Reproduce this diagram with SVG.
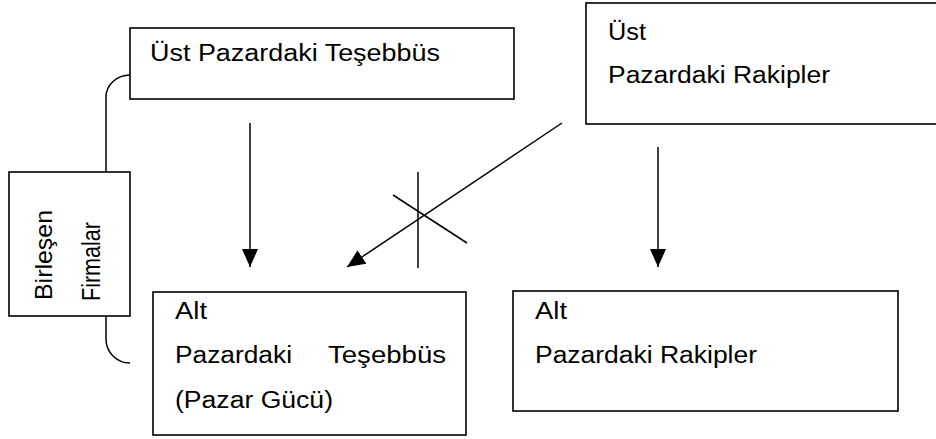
<svg xmlns="http://www.w3.org/2000/svg" width="936" height="439" viewBox="0 0 936 439">
  <style>
    .box { fill: #fff; stroke: #000; stroke-width: 1.6; }
    .lbl { font-family: "Liberation Sans", Arial, sans-serif; font-size: 23px; fill: #000; }
    .vlbl { font-family: "Liberation Sans", Arial, sans-serif; font-size: 24px; fill: #000; }
    .wire { fill: none; stroke: #000; stroke-width: 1.5; }
  </style>
  <defs>
    <marker id="head" markerUnits="userSpaceOnUse" markerWidth="18" markerHeight="16" refX="18" refY="8" orient="auto">
      <path d="M0,0 L18,8 L0,16 Z" fill="#000"/>
    </marker>
  </defs>

  <rect width="936" height="439" fill="#fff"/>

  <!-- bracket lines joining the merging firms, plus the influence arrows -->
  <g id="connectors">
    <path class="wire" d="M130,75 A24,22 0 0 0 106,97 V172"/>
    <path class="wire" d="M106,316 V339 A24,24 0 0 0 130,363"/>
    <line class="wire" x1="250" y1="123" x2="250" y2="267" marker-end="url(#head)"/>
    <line class="wire" x1="658" y1="147" x2="658" y2="267" marker-end="url(#head)"/>
    <line class="wire" x1="562" y1="123" x2="347" y2="267" marker-end="url(#head)"/>
    <!-- crossing-out mark on the diagonal -->
    <line class="wire" x1="418" y1="172" x2="418" y2="268"/>
    <line class="wire" x1="393" y1="195" x2="467" y2="243"/>
  </g>

  <g id="ust-tesebbus">
    <rect class="box" x="130" y="28" width="384" height="71"/>
    <text class="lbl" x="150" y="61" textLength="290" lengthAdjust="spacingAndGlyphs">Üst Pazardaki Teşebbüs</text>
  </g>

  <g id="ust-rakipler">
    <rect class="box" x="586" y="3" width="400" height="121"/>
    <text class="lbl" x="608" y="40" textLength="38" lengthAdjust="spacingAndGlyphs">Üst</text>
    <text class="lbl" x="608" y="83" textLength="222" lengthAdjust="spacingAndGlyphs">Pazardaki Rakipler</text>
  </g>

  <g id="birlesen-firmalar">
    <rect class="box" x="9" y="172" width="121" height="144"/>
    <text class="vlbl" transform="translate(52,300) rotate(-90)" textLength="90" lengthAdjust="spacingAndGlyphs">Birleşen</text>
    <text class="vlbl" style="font-size:25px" transform="translate(100,301) rotate(-90)" textLength="79" lengthAdjust="spacingAndGlyphs">Firmalar</text>
  </g>

  <g id="alt-tesebbus">
    <rect class="box" x="153" y="292" width="313" height="143"/>
    <text class="lbl" x="175" y="319" textLength="32" lengthAdjust="spacingAndGlyphs">Alt</text>
    <text class="lbl" x="175" y="363" textLength="117" lengthAdjust="spacingAndGlyphs">Pazardaki</text>
    <text class="lbl" x="328" y="363" textLength="118" lengthAdjust="spacingAndGlyphs">Teşebbüs</text>
    <text class="lbl" x="175" y="408" textLength="158" lengthAdjust="spacingAndGlyphs">(Pazar Gücü)</text>
  </g>

  <g id="alt-rakipler">
    <rect class="box" x="513" y="291" width="385" height="120"/>
    <text class="lbl" x="535" y="319" textLength="32" lengthAdjust="spacingAndGlyphs">Alt</text>
    <text class="lbl" x="535" y="363" textLength="222" lengthAdjust="spacingAndGlyphs">Pazardaki Rakipler</text>
  </g>
</svg>
